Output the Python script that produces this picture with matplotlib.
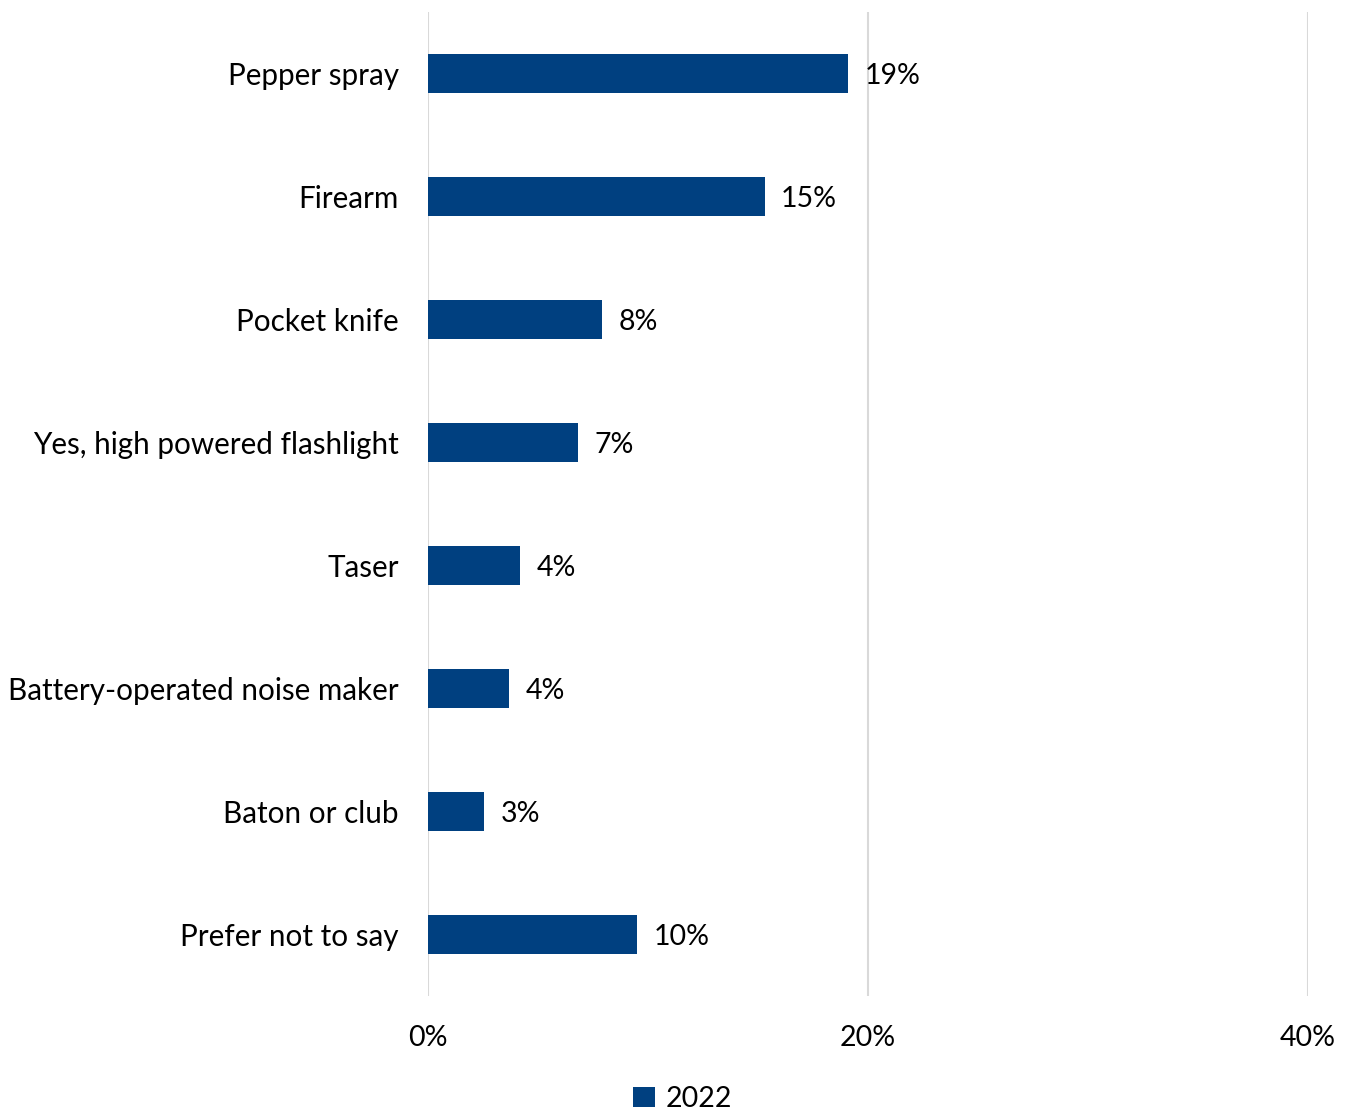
import matplotlib
matplotlib.use("Agg")
import matplotlib.pyplot as plt
from matplotlib.ticker import FuncFormatter

categories = ["Pepper spray", "Firearm", "Pocket knife", "Yes, high powered flashlight",
              "Taser", "Battery-operated noise maker", "Baton or club", "Prefer not to say"]
values = [19.1, 15.3, 7.9, 6.8, 4.2, 3.7, 2.55, 9.5]
series_name = "2022"
xticks = [0, 20, 40]

plt.rcParams['font.family'] = ['Lato', 'DejaVu Sans']
color = "#004080"
fs = 20.5

fig = plt.figure(figsize=(13.52, 11.11), dpi=100)
ax = fig.add_axes([428/1352, 1-996/1111, 880/1352, 984/1111])

y = list(range(len(categories)))
bars = ax.barh(y, values, height=0.31, color=color, label=series_name, zorder=3)
for yi, v in zip(y, values):
    ax.text(v + 0.75, yi + 0.02, f"{v:.0f}%", va="center", ha="left", fontsize=fs, color="#000000")

ax.set_ylim(len(categories) - 0.5, -0.5)
ax.set_xlim(0, 40)
ax.set_yticks(y)
ax.set_yticklabels(categories, fontsize=21.3)
ax.set_xticks(xticks)
ax.xaxis.set_major_formatter(FuncFormatter(lambda v, p: f"{v:.0f}%"))
ax.tick_params(axis="x", labelsize=fs, length=0, pad=21)
ax.tick_params(axis="y", length=0, pad=21)
ax.grid(axis="x", color="#d9d9d9", linewidth=1.5, zorder=0)
for s in ax.spines.values():
    s.set_visible(False)

fig.legend(handles=[bars], labels=[series_name], loc="center", bbox_to_anchor=(683/1352, 1-1099/1111),
           frameon=False, fontsize=fs, handlelength=0.75, handleheight=0.75, handletextpad=0.4)

fig.savefig("out.png", dpi=100)
